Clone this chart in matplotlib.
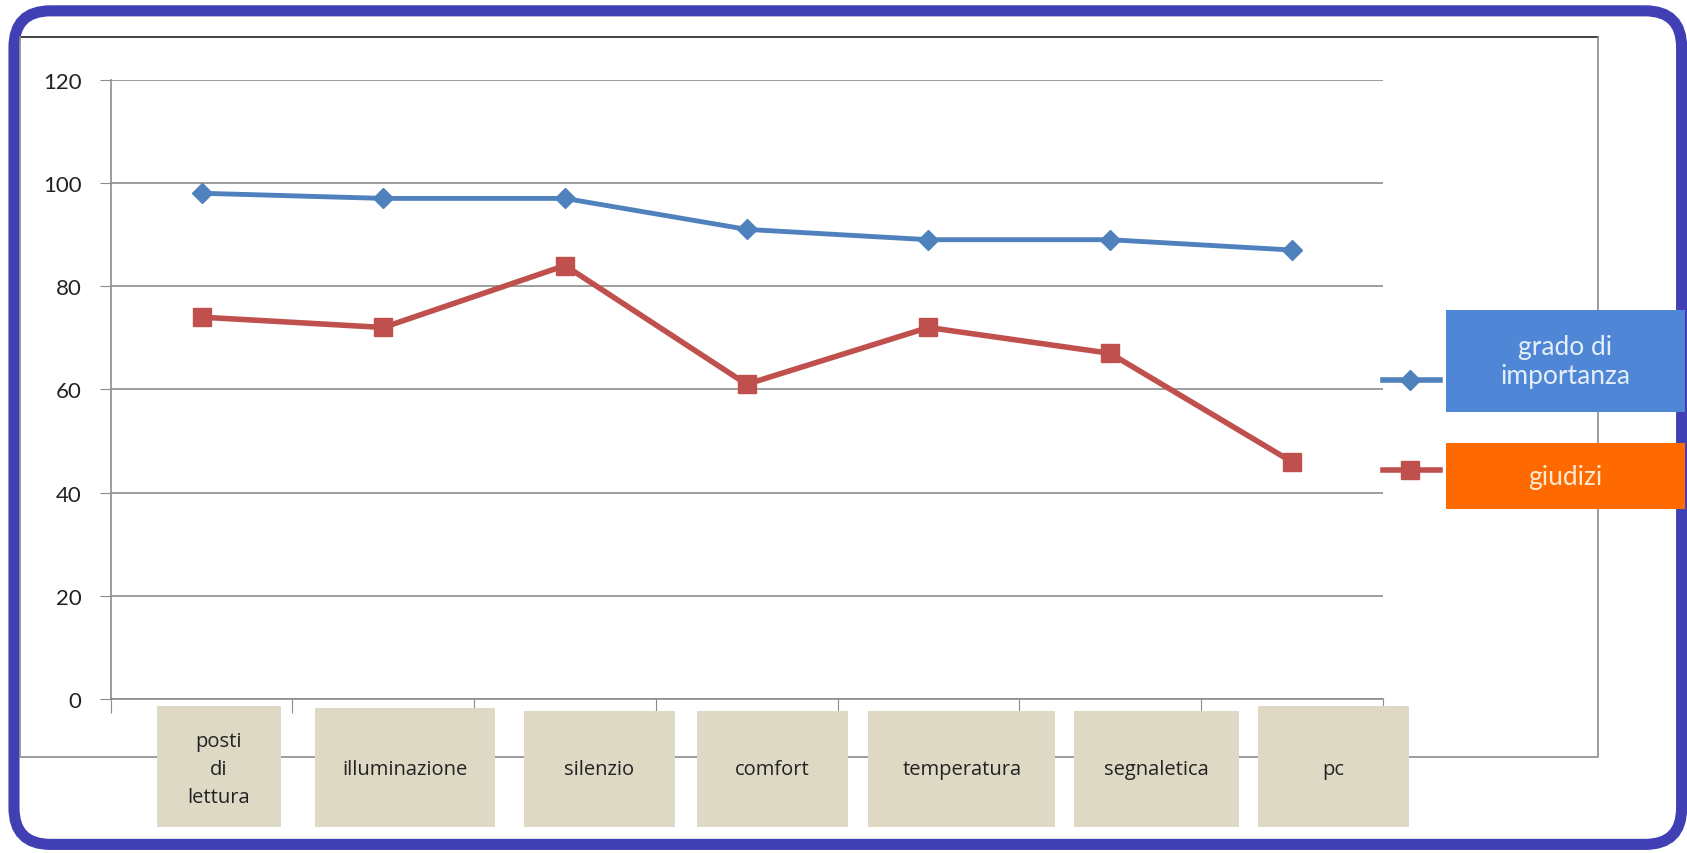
import matplotlib
matplotlib.use("Agg")
import matplotlib.pyplot as plt
from matplotlib.patches import FancyBboxPatch, Rectangle
from matplotlib.lines import Line2D

plt.rcParams['font.family'] = ['Lato', 'DejaVu Sans']

# dati
categorie = ["posti\ndi\nlettura", "illuminazione", "silenzio", "comfort",
             "temperatura", "segnaletica", "pc"]
grado = [98, 97, 97, 91, 89, 89, 87]
giudizi = [74, 72, 84, 61, 72, 67, 46]
serie = ["grado di\nimportanza", "giudizi"]
yticks = [0, 20, 40, 60, 80, 100, 120]

W, H = 1568.0, 794.0  # coordinate di riferimento (pixel)


def box(x0, y0, x1, y1):
    # da pixel (origine in alto a sinistra) a frazioni di figura
    return [x0 / W, 1 - y1 / H, (x1 - x0) / W, (y1 - y0) / H]


fig = plt.figure(figsize=(16.87, 8.54), dpi=100)
fig.patch.set_facecolor("white")

# sfondo: bordo blu arrotondato e cornice del grafico
bg = fig.add_axes([0, 0, 1, 1], zorder=0)
bg.set_xlim(0, W)
bg.set_ylim(H, 0)
bg.axis("off")
bg.add_patch(FancyBboxPatch((13, 11), W - 18, H - 19,
                            boxstyle="round,pad=0,rounding_size=34",
                            fill=False, ec="#4040B4", lw=8))
bg.plot([19, 1485], [35, 35], color="#333333", lw=1.3)
bg.plot([19, 19, 1485, 1485], [35, 705, 705, 35], color="#8c8c8c", lw=1.2)

# grafico
ax = fig.add_axes(box(103, 75, 1285, 651), zorder=1)
ax.patch.set_alpha(0)
x = [i + 0.5 for i in range(len(categorie))]
ax.set_xlim(0, len(categorie))
ax.set_ylim(0, 120)
ax.set_yticks(yticks)
ax.set_xticks(range(len(categorie) + 1))
ax.set_xticklabels([])
ax.tick_params(axis="y", length=8, color="#8c8c8c", labelsize=16, pad=13,
               labelcolor="#222222")
ax.tick_params(axis="x", length=10, color="#8c8c8c", direction="out")
for s in ["top", "right"]:
    ax.spines[s].set_visible(False)
for s in ["left", "bottom"]:
    ax.spines[s].set_color("#8c8c8c")
    ax.spines[s].set_linewidth(1.2)
ax.yaxis.grid(True, color="#8c8c8c", lw=1.2)
ax.set_axisbelow(True)

ax.plot(x, grado, color="#4F81BD", lw=3.5, marker="D", ms=10, clip_on=False,
        label=serie[0])
ax.plot(x, giudizi, color="#C0504D", lw=4, marker="s", ms=13, clip_on=False,
        label=serie[1])

# sovrapposizione: caselle delle categorie e legenda
ov = fig.add_axes([0, 0, 1, 1], zorder=2)
ov.set_xlim(0, W)
ov.set_ylim(H, 0)
ov.axis("off")

caselle = [(146, 657, 261, 770), (293, 659, 460, 770), (487, 662, 627, 770),
           (648, 662, 788, 770), (807, 662, 981, 770), (998, 662, 1152, 770),
           (1169, 657, 1310, 770)]
for (x0, y0, x1, y1), lab in zip(caselle, categorie):
    ov.add_patch(Rectangle((x0, y0), x1 - x0, y1 - y0, fc="#DDD9C4", ec="none"))
    ov.text((x0 + x1) / 2, 716, lab, ha="center", va="center", fontsize=14.5,
            family=["Open Sans", "DejaVu Sans"], color="#222222",
            linespacing=1.55)

# legenda
leg = [((1344, 289, 1566, 384), 354, "#4F87D6", "#E4EEF8", "#4F81BD", "D", 10),
       ((1344, 413, 1566, 474), 438, "#FF6A00", "#FCE9D2", "#C0504D", "s", 13)]
for (b, yl, fc, tc, lc, mk, ms), lab in zip(leg, serie):
    x0, y0, x1, y1 = b
    ov.add_patch(Rectangle((x0, y0), x1 - x0, y1 - y0, fc=fc, ec="none"))
    ov.text((x0 + x1) / 2, (y0 + y1) / 2, lab, ha="center", va="center",
            fontsize=19, color=tc, linespacing=1.2)
    ov.add_line(Line2D([1285, 1338], [yl, yl], color=lc, lw=4))
    ov.plot([1311], [yl], marker=mk, ms=ms, color=lc)

fig.savefig("out.png", dpi=100)
